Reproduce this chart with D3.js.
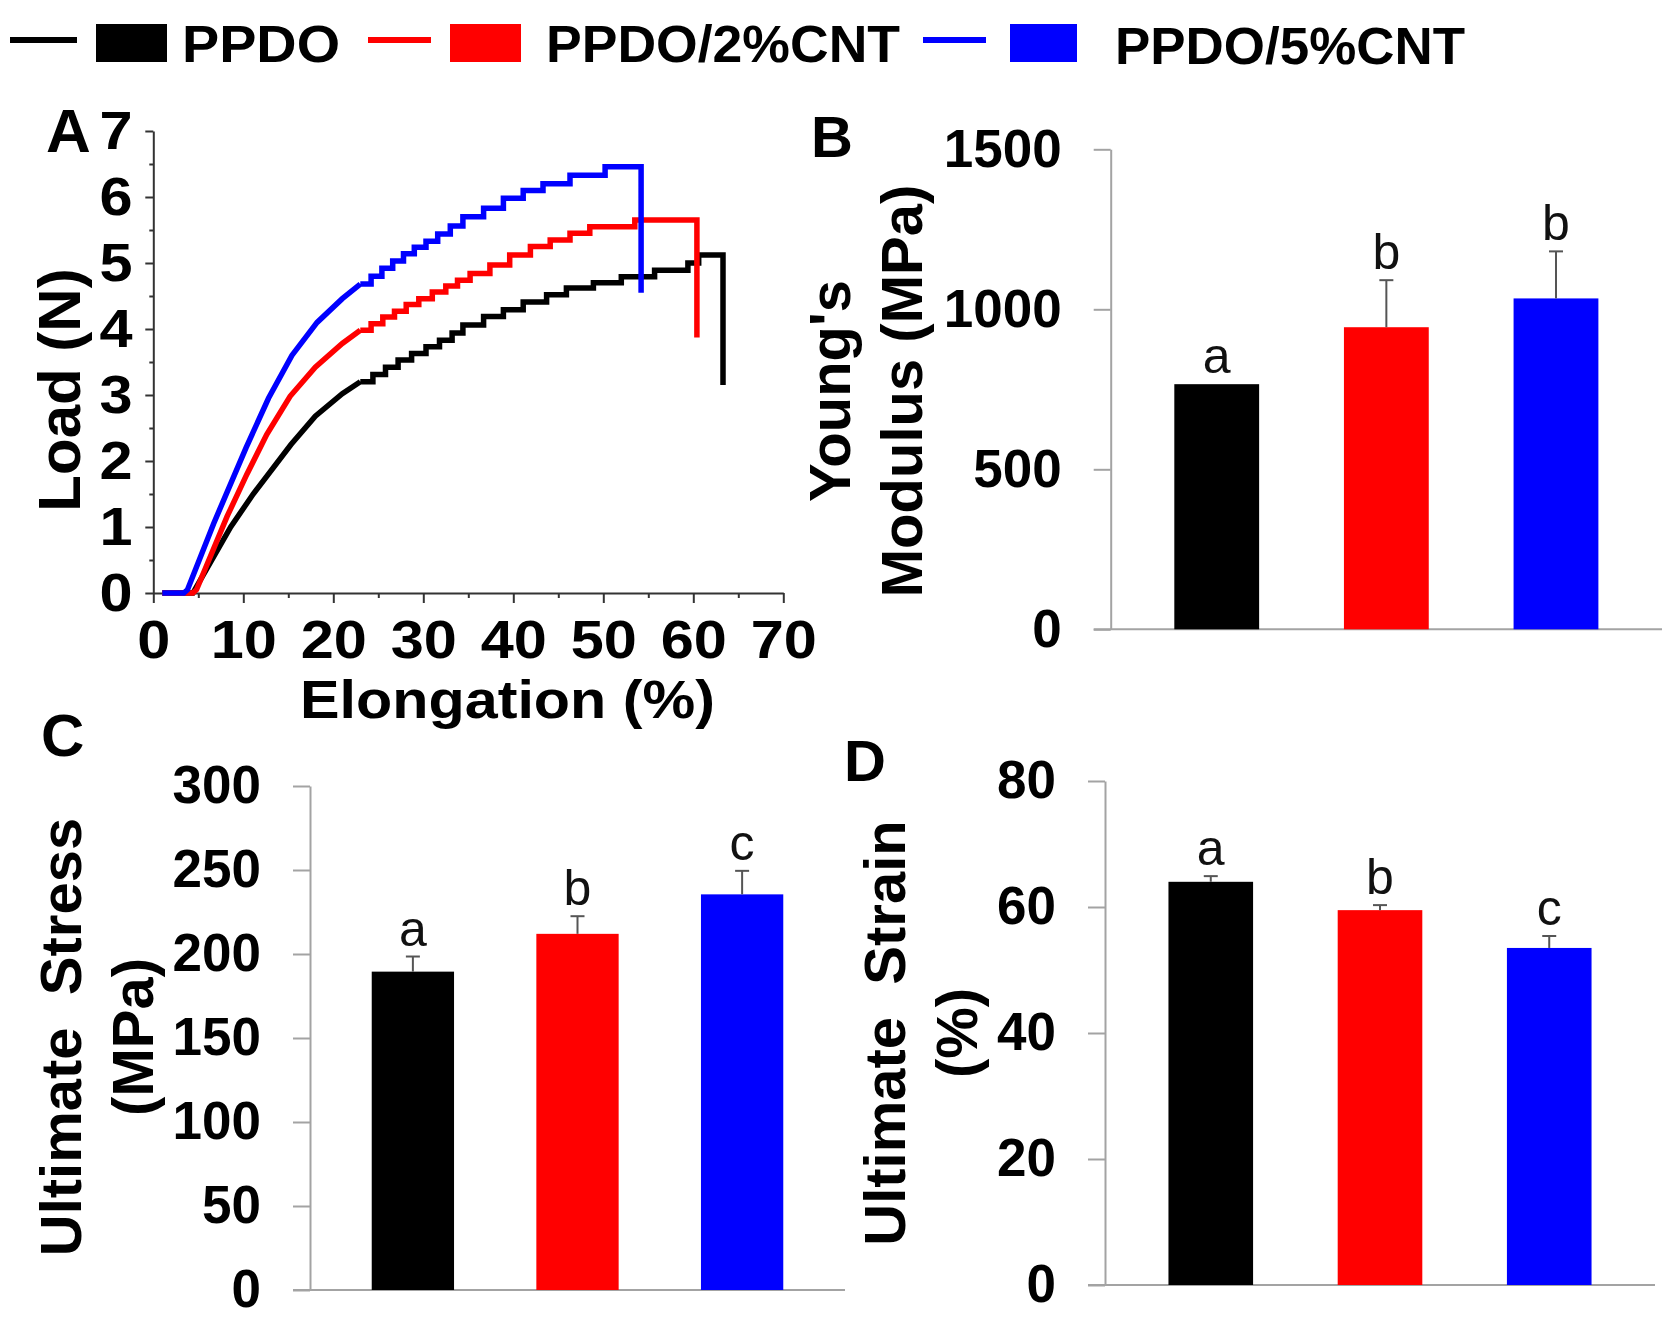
<!DOCTYPE html>
<html><head><meta charset="utf-8">
<script src="https://cdn.jsdelivr.net/npm/d3@7"></script>
<style>
body{margin:0;background:#fff;}
svg{display:block;}
text{font-family:"Liberation Sans",Arial,Helvetica,sans-serif;}
</style></head><body>
<svg id="chart" width="1668" height="1327"></svg>
<script>
// ---------------- data ----------------
const seriesNames = ["PPDO", "PPDO/2%CNT", "PPDO/5%CNT"];
const seriesColors = ["#000000", "#ff0000", "#0000ff"];

// Panel A: load-elongation curves (elongation %, load N)
const blackRise = [[1.0,0],[4.4,0],[8.6,1.0],[11.1,1.5],[15.3,2.25],[18.0,2.68],[21.0,3.02],[23.0,3.2]];
const blackSteps = [[23.0,3.2],[24.4,3.31],[25.8,3.42],[27.2,3.53],[28.7,3.63],[30.3,3.73],[31.8,3.83],[33.2,3.94],[34.4,4.06],[36.7,4.19],[38.9,4.29],[41.1,4.41],[43.7,4.52],[45.9,4.62],[48.9,4.70],[52.0,4.79],[55.7,4.89],[59.4,5.00],[60.6,5.12],[63.3,5.12],[63.3,3.15]];
const redRise = [[1.0,0],[4.4,0],[4.8,0.05],[8.2,1.16],[10.4,1.8],[12.6,2.4],[15.2,2.98],[18.0,3.42],[21.0,3.78],[23.0,3.98]];
const redSteps = [[23.0,3.98],[24.2,4.08],[25.5,4.18],[26.8,4.27],[28.1,4.37],[29.5,4.46],[31.0,4.56],[32.5,4.65],[33.8,4.74],[35.2,4.84],[37.4,4.97],[39.6,5.12],[41.9,5.25],[44.1,5.35],[46.3,5.45],[48.5,5.55],[53.5,5.65],[60.4,5.65],[60.4,3.87]];
const blueRise = [[1.0,0],[3.4,0],[3.8,0.05],[6.7,1.05],[10.3,2.2],[12.8,2.95],[15.4,3.6],[18.2,4.1],[21.0,4.46],[23.0,4.68]];
const blueSteps = [[23.0,4.68],[24.2,4.80],[25.4,4.92],[26.6,5.03],[27.8,5.14],[29.0,5.24],[30.3,5.33],[31.6,5.44],[33.0,5.56],[34.4,5.70],[36.7,5.83],[38.9,5.98],[41.1,6.10],[43.3,6.20],[46.3,6.33],[50.2,6.46],[54.2,6.46],[54.2,4.55]];

const elongTicks = [0,10,20,30,40,50,60,70];
const elongMinor = [5,15,25,35,45,55,65];
const loadTicks = [0,1,2,3,4,5,6,7];
const loadMinor = [0.5,1.5,2.5,3.5,4.5,5.5,6.5];

// Panel B: Young's modulus (MPa)
const youngsValues = [766, 944, 1034];
const youngsErrors = [0, 147, 147];
const youngsLetters = ["a", "b", "b"];
const youngsTicks = [0, 500, 1000, 1500];

// Panel C: ultimate stress (MPa)
const stressValues = [189.5, 212, 235.5];
const stressErrors = [9, 10.5, 14];
const stressLetters = ["a", "b", "c"];
const stressTicks = [0, 50, 100, 150, 200, 250, 300];

// Panel D: ultimate strain (%)
const strainValues = [64, 59.5, 53.5];
const strainErrors = [0.9, 0.8, 1.9];
const strainLetters = ["a", "b", "c"];
const strainTicks = [0, 20, 40, 60, 80];

// ---------------- drawing ----------------
const svg = d3.select("#chart");
svg.append("rect").attr("width",1668).attr("height",1327).attr("fill","#fff");

// Legend
const legend = [
  {line:[10,77], box:[96,167], tx:182, ty:62, tl:158},
  {line:[368,431], box:[450,521], tx:546, ty:62, tl:354},
  {line:[923,986], box:[1010,1077], tx:1115, ty:64, tl:350}
];
legend.forEach((l,i) => {
  svg.append("line").attr("x1",l.line[0]).attr("x2",l.line[1]).attr("y1",40).attr("y2",40)
    .attr("stroke",seriesColors[i]).attr("stroke-width",6);
  svg.append("rect").attr("x",l.box[0]).attr("y",24).attr("width",l.box[1]-l.box[0]).attr("height",38)
    .attr("fill",seriesColors[i]);
  svg.append("text").attr("x",l.tx).attr("y",l.ty).attr("font-size",52).attr("font-weight","bold")
    .attr("textLength",l.tl).attr("lengthAdjust","spacingAndGlyphs").text(seriesNames[i]);
});

function panelLabel(txt, x, y, size){
  svg.append("text").attr("x",x).attr("y",y).attr("font-size",size).attr("font-weight","bold").text(txt);
}

// ---------- Panel A ----------
const xA = d3.scaleLinear().domain([0,70]).range([153.3, 783.3]);
const yA = d3.scaleLinear().domain([0,7]).range([593, 131]);
const axisColA = "#333";

const gxA = svg.append("g").attr("transform","translate(0,593)")
  .call(d3.axisBottom(xA).tickValues(elongTicks).tickSize(10).tickSizeOuter(0).tickPadding(17).tickFormat(d3.format("d")));
const gxAm = svg.append("g").attr("transform","translate(0,593)")
  .call(d3.axisBottom(xA).tickValues(elongMinor).tickSize(5).tickSizeOuter(0).tickFormat(""));
gxAm.select(".domain").remove();
const gyA = svg.append("g").attr("transform","translate(153.3,0)")
  .call(d3.axisLeft(yA).tickValues(loadTicks).tickSize(8).tickSizeOuter(0).tickPadding(11).tickFormat(d3.format("d")));
const gyAm = svg.append("g").attr("transform","translate(153.3,0)")
  .call(d3.axisLeft(yA).tickValues(loadMinor).tickSize(4).tickSizeOuter(0).tickFormat(""));
gyAm.select(".domain").remove();
[gxA,gxAm,gyA,gyAm].forEach(g => {
  g.selectAll("path,line").attr("stroke",axisColA).attr("stroke-width",2);
  g.selectAll("text").attr("font-size",54).attr("font-weight","bold").attr("fill","#000")
    .attr("font-family",'"Liberation Sans",Arial,sans-serif');
});
gxA.selectAll("text").attr("transform","scale(1.1,1)");
gyA.selectAll("text").attr("transform","scale(1.1,1)");

const lineA = d3.line().x(d => xA(d[0])).y(d => yA(d[1]));
const curves = [[blackRise,blackSteps],[redRise,redSteps],[blueRise,blueSteps]];
curves.forEach((c,i) => {
  const d = lineA.curve(d3.curveLinear)(c[0]) + lineA.curve(d3.curveStepAfter)(c[1]);
  svg.append("path").attr("d",d).attr("fill","none").attr("stroke",seriesColors[i])
    .attr("stroke-width",5.5).attr("stroke-linejoin","miter");
});

panelLabel("A", 46, 152, 62);
svg.append("text").attr("transform","translate(80,390) rotate(-90)").attr("text-anchor","middle")
  .attr("font-size",60).attr("font-weight","bold").text("Load (N)");
svg.append("text").attr("x",300).attr("y",718).attr("font-size",54).attr("font-weight","bold")
  .attr("textLength",415).attr("lengthAdjust","spacingAndGlyphs").text("Elongation (%)");

// ---------- bar panels ----------
function barPanel(o){
  const xb = d3.scaleBand().domain(seriesNames).range(o.xRange).paddingInner(0.5).paddingOuter(0.375);
  const y = d3.scaleLinear().domain(o.yDomain).range(o.yRange);
  const x0 = o.xRange[0];
  const g = svg.append("g");
  const ga = g.append("g").attr("transform",`translate(${x0},0)`)
    .call(d3.axisLeft(y).tickValues(o.ticks).tickSize(17).tickSizeOuter(0).tickPadding(32).tickFormat(d3.format("d")));
  ga.selectAll("path,line").attr("stroke","#a3a3a3").attr("stroke-width",2);
  ga.selectAll("text").attr("font-size",53).attr("font-weight","bold").attr("fill","#000")
    .attr("font-family",'"Liberation Sans",Arial,sans-serif');
  g.append("line").attr("x1",x0-17).attr("x2",o.xRange[1]).attr("y1",y(0)).attr("y2",y(0))
    .attr("stroke","#a3a3a3").attr("stroke-width",2);
  seriesNames.forEach((n,i) => {
    const v = o.values[i], e = o.errors[i];
    const cx = xb(n) + xb.bandwidth()/2;
    g.append("rect").attr("x",xb(n)).attr("width",xb.bandwidth()).attr("y",y(v))
      .attr("height",y(0)-y(v)).attr("fill",seriesColors[i]);
    if (e > 0){
      g.append("line").attr("x1",cx).attr("x2",cx).attr("y1",y(v)).attr("y2",y(v+e))
        .attr("stroke","#555").attr("stroke-width",2);
      g.append("line").attr("x1",cx-7).attr("x2",cx+7).attr("y1",y(v+e)).attr("y2",y(v+e))
        .attr("stroke","#555").attr("stroke-width",2);
    }
    g.append("text").attr("x",cx).attr("y",y(v+e)-11).attr("text-anchor","middle")
      .attr("font-size",50).attr("fill","#111").text(o.letters[i]);
  });
  const tg = svg.append("text").attr("transform",`translate(0,${o.titleY}) rotate(-90)`)
    .attr("text-anchor","middle").attr("font-size",o.titleSize).attr("font-weight","bold")
    .style("white-space","pre");
  o.title.forEach((t,k) => {
    tg.append("tspan").attr("x",0).attr("y",o.titleX[k]).text(t);
  });
}

barPanel({xRange:[1110.7,1662], yDomain:[0,1500], yRange:[629.3,149.3], ticks:youngsTicks,
  values:youngsValues, errors:youngsErrors, letters:youngsLetters,
  title:["Young's","Modulus (MPa)"], titleX:[849.5,922], titleY:391, titleSize:58});
panelLabel("B", 811, 157, 58);

barPanel({xRange:[310,845], yDomain:[0,300], yRange:[1290,786], ticks:stressTicks,
  values:stressValues, errors:stressErrors, letters:stressLetters,
  title:["Ultimate  Stress","(MPa)"], titleX:[81,153], titleY:1037, titleSize:58});
panelLabel("C", 41, 756, 60);

barPanel({xRange:[1105,1655], yDomain:[0,80], yRange:[1285,781], ticks:strainTicks,
  values:strainValues, errors:strainErrors, letters:strainLetters,
  title:["Ultimate  Strain","(%)"], titleX:[905,977], titleY:1033, titleSize:58});
panelLabel("D", 844, 781, 58);
</script>
</body></html>
